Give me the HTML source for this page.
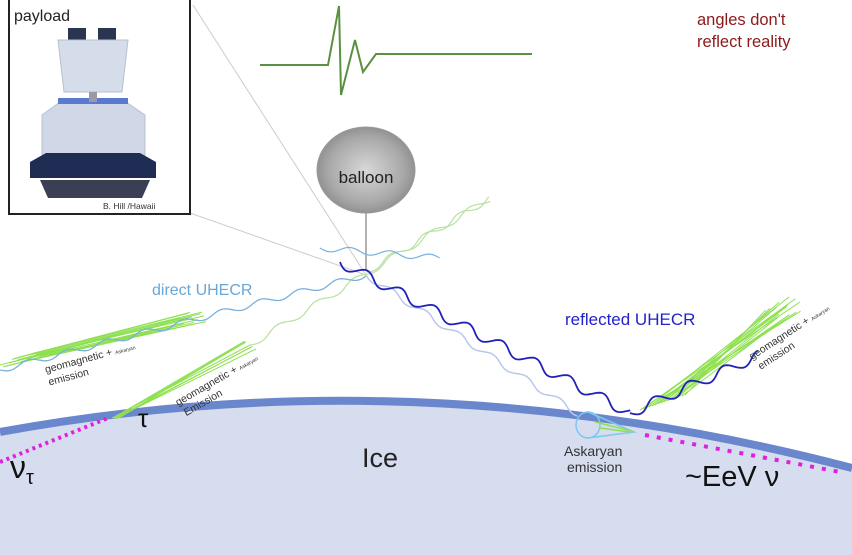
<!DOCTYPE html>
<html><head><meta charset="utf-8"><style>
body{margin:0;background:#fff}
svg{display:block}
text{font-family:"Liberation Sans","DejaVu Sans",sans-serif}
</style></head><body>
<svg id="s" width="852" height="555" viewBox="0 0 852 555" xmlns="http://www.w3.org/2000/svg">
<defs>
<radialGradient id="bg" cx="0.5" cy="0.5" r="0.55">
<stop offset="0" stop-color="#d8d8d8"/><stop offset="0.7" stop-color="#a8a8a8"/><stop offset="1" stop-color="#888"/>
</radialGradient>
</defs>
<path d="M0,432 Q420,355 852,468 L852,555 L0,555 Z" fill="#d6ddef"/>
<path d="M0,432 Q420,355 852,468" fill="none" stroke="#6a86cc" stroke-width="8"/>
<line x1="193" y1="5" x2="366" y2="275" stroke="#ccc" stroke-width="1"/>
<line x1="190" y1="213" x2="366" y2="275" stroke="#ccc" stroke-width="1"/>
<rect x="9" y="-2" width="181" height="216" fill="#fff" stroke="#222" stroke-width="2"/>
<g>
<rect x="68" y="28" width="18" height="12" fill="#2a3550"/>
<rect x="98" y="28" width="18" height="12" fill="#2a3550"/>
<path d="M58,40 L128,40 L122,92 L64,92 Z" fill="#d5dcea" stroke="#b8c0d0"/>
<path d="M60,102 L126,102 L145,115 L145,155 L42,155 L42,115 Z" fill="#d0d8e8" stroke="#b8c0d0"/>
<rect x="58" y="98" width="70" height="6" fill="#5a7ad0"/>
<path d="M30,162 L46,153 L140,153 L156,162 L156,178 L30,178 Z" fill="#1f2d55"/>
<path d="M40,180 L150,180 L142,198 L48,198 Z" fill="#3a3f55"/>
<line x1="93" y1="92" x2="93" y2="102" stroke="#99a" stroke-width="8"/>
</g>
<text x="14" y="21" font-size="16" fill="#222">payload</text>
<text x="103" y="209" font-size="8.5" fill="#333">B. Hill /Hawaii</text>
<polyline points="260,65 328,65 339,6 341,95 355,40 363,72 376,54 532,54" fill="none" stroke="#5a9040" stroke-width="2"/>
<text x="697" y="25" font-size="16.5" fill="#8b1a1a">angles don't</text>
<text x="697" y="47" font-size="16.5" fill="#8b1a1a">reflect reality</text>
<line x1="366" y1="212" x2="366" y2="270" stroke="#666" stroke-width="1"/>
<ellipse cx="366" cy="170" rx="49" ry="43" fill="url(#bg)" stroke="#999"/>
<text x="366" y="183" font-size="17" text-anchor="middle" fill="#222">balloon</text>
<g id="waves"></g>
<text x="152" y="295" font-size="16" fill="#6aa6d6">direct UHECR</text>
<text x="565" y="325" font-size="17" fill="#2222cc">reflected UHECR</text>
<text x="362" y="467" font-size="27" fill="#222">Ice</text>
<text x="138" y="427" font-size="26" fill="#111">τ</text>
<text x="10" y="478" font-size="32" fill="#111">ν<tspan font-size="20" dy="6">τ</tspan></text>
<text x="685" y="486" font-size="29" fill="#111">~EeV ν</text>
<text x="564" y="456" font-size="14" fill="#333">Askaryan</text>
<text x="567" y="472" font-size="14" fill="#333">emission</text>
<g transform="translate(46,373) rotate(-15)"><text font-size="10.5" fill="#333">geomagnetic + <tspan font-size="5">Askaryan</tspan></text><text y="13" font-size="10.5" fill="#333">emission</text></g>
<g transform="translate(178,406) rotate(-30)"><text font-size="10.5" fill="#333">geomagnetic + <tspan font-size="5">Askaryan</tspan></text><text x="2" y="13" font-size="10.5" fill="#333">Emission</text></g>
<g transform="translate(752,360) rotate(-33)"><text font-size="10.5" fill="#333">geomagnetic + <tspan font-size="5">Askaryan</tspan></text><text x="2" y="13" font-size="10.5" fill="#333">emission</text></g>
<ellipse cx="588" cy="425" rx="12" ry="13" fill="none" stroke="#7cc8ee" stroke-width="1.5"/>
<path d="M588,412 L634,432 L588,438" fill="none" stroke="#7cc8ee" stroke-width="1.5"/>
<path d="M595,422 L632,431 M600,428 L630,432" stroke="#8ee050" stroke-width="1.5"/>
<line x1="0" y1="462" x2="108" y2="418" stroke="#e020e0" stroke-width="4" stroke-dasharray="3,4"/>
<line x1="645" y1="435" x2="840" y2="472" stroke="#e020e0" stroke-width="4" stroke-dasharray="4,8"/>
</svg>
<script>
var g=document.getElementById('waves'),NS='http://www.w3.org/2000/svg';
function wave(x1,y1,x2,y2,amp,per,col,w){var dx=x2-x1,dy=y2-y1,L=Math.hypot(dx,dy),nx=-dy/L,ny=dx/L,d='';
for(var i=0;i<=L;i+=2){var t=i/L,o=amp*Math.sin(i/per*2*Math.PI);d+=(i?'L':'M')+(x1+dx*t+nx*o).toFixed(1)+','+(y1+dy*t+ny*o).toFixed(1);}
var p=document.createElementNS(NS,'path');p.setAttribute('d',d);p.setAttribute('fill','none');p.setAttribute('stroke',col);p.setAttribute('stroke-width',w);g.appendChild(p);}
function line(x1,y1,x2,y2,col,w){var p=document.createElementNS(NS,'line');p.setAttribute('x1',x1);p.setAttribute('y1',y1);p.setAttribute('x2',x2);p.setAttribute('y2',y2);p.setAttribute('stroke',col);p.setAttribute('stroke-width',w);g.appendChild(p);}
for(var k=0;k<14;k++){var r=Math.sin(k*7.3);line(0+k*3,365-k*0.8+r*3,180+k*2,318+r*6,'#8ee050',1);}
for(var k=0;k<8;k++){var r=Math.sin(k*5.1);line(112+k,418,250+r*6,345+r*4,'#8ee050',1);}
for(var k=0;k<16;k++){var r=Math.sin(k*3.7);line(640+k*3,410-k,800-k*2+r*5,302+r*8+k,'#8ee050',1);}
wave(250,345,490,198,3,45,'#b8e0a0',1.2);
wave(366,272,490,198,3,40,'#b8e0a0',1.2);
wave(0,370,366,275,3,40,'#7ab0dc',1.3);
wave(320,248,440,258,3,40,'#7ab0dc',1.2);
wave(366,275,580,415,3,40,'#b8c8ea',1.5);
wave(340,262,630,413,5,38,'#2222bb',1.8);
wave(630,413,760,355,5,38,'#2222bb',1.8);
</script>
</body></html>
